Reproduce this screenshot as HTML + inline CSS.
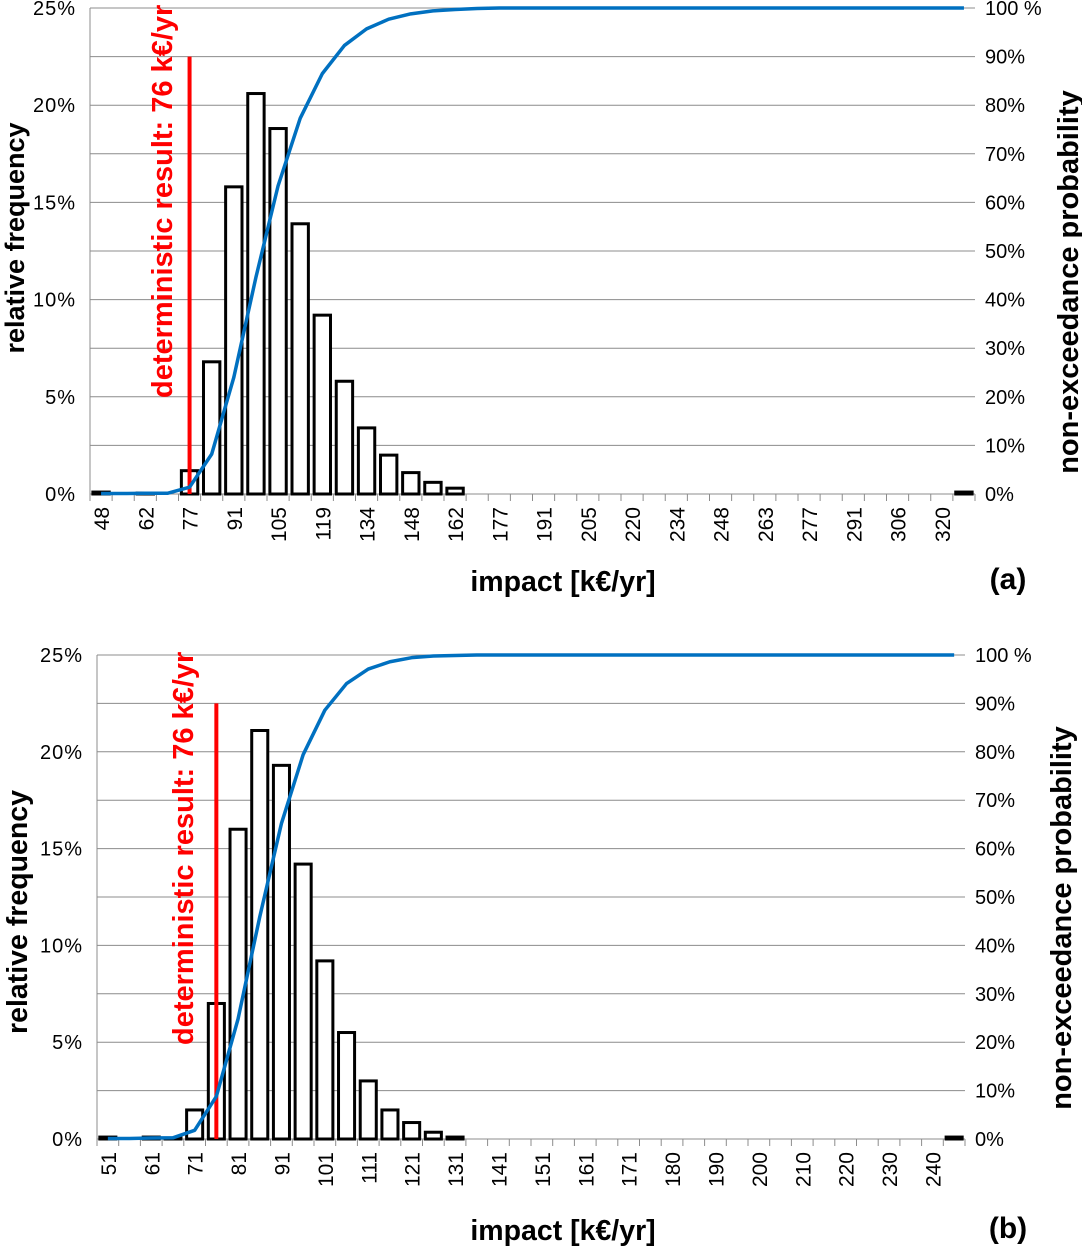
<!DOCTYPE html>
<html><head><meta charset="utf-8"><style>
html,body{margin:0;padding:0;background:#fff;}
svg{display:block;font-family:"Liberation Sans",Arial,sans-serif;}
</style></head><body>
<svg id="chart" width="1082" height="1247" viewBox="0 0 1082 1247" xmlns="http://www.w3.org/2000/svg"></svg>
<script>
// ---- data (a) ----
const catsA = ["48","55","62","69","77","84","91","98","105","112","119","127","134","141","148","155","162","170","177","184","191","198","205","213","220","227","234","241","248","256","263","270","277","284","291","299","306","313","320","327"];
const freqA = [0.1,0,0.05,0,1.2,6.8,15.8,20.6,18.8,13.9,9.2,5.8,3.4,2.0,1.1,0.6,0.3,0,0,0,0,0,0,0,0,0,0,0,0,0,0,0,0,0,0,0,0,0,0,0.1];
const cumA = [0.1,0.1,0.15,0.15,1.4,8.2,24,44.6,63.4,77.3,86.5,92.3,95.7,97.7,98.8,99.4,99.7,99.9,100,100,100,100,100,100,100,100,100,100,100,100,100,100,100,100,100,100,100,100,100,100];
const detA = 76;
// ---- data (b) ----
const catsB = ["51","56","61","66","71","76","81","86","91","96","101","106","111","116","121","126","131","136","141","146","151","156","161","166","171","176","180","185","190","195","200","205","210","215","220","225","230","235","240","245"];
const freqB = [0.1,0,0.1,0.05,1.5,7.0,16.0,21.1,19.3,14.2,9.2,5.5,3.0,1.5,0.85,0.35,0.1,0,0,0,0,0,0,0,0,0,0,0,0,0,0,0,0,0,0,0,0,0,0,0.1];
const cumB = [0.1,0.1,0.2,0.25,1.8,8.8,24.8,45.9,65.2,79.4,88.6,94.1,97.1,98.6,99.45,99.8,99.9,100,100,100,100,100,100,100,100,100,100,100,100,100,100,100,100,100,100,100,100,100,100,100];
const detB = 76;
const leftTicks = ["0%","5%","10%","15%","20%","25%"];
const rightTicks = ["0%","10%","20%","30%","40%","50%","60%","70%","80%","90%","100 %"];

const NS="http://www.w3.org/2000/svg";
const svg=document.getElementById('chart');
function mk(tag,attrs,parent,text){const e=document.createElementNS(NS,tag);for(const k in attrs)e.setAttribute(k,attrs[k]);if(text!==undefined)e.textContent=text;(parent||svg).appendChild(e);return e;}

function drawChart(cfg,cats,freq,cum,det){
  const g=mk('g',{});
  
  
  const n=cats.length, cw=(cfg.x1-cfg.x0)/n;
  const xC=i=>cfg.x0+cw*(i+0.5);
  const yL=v=>cfg.yb-(v/25)*(cfg.yb-cfg.yt);
  const yR=v=>cfg.yb-(v/100)*(cfg.yb-cfg.yt);
  for(let k=0;k<=10;k++){const y=yL(k*2.5);
    const l=mk('line',{x1:cfg.x0,x2:cfg.x1,y1:y,y2:y,stroke:'#8c8c8c','stroke-width':1},g);
    }
  const ax=mk('line',{x1:cfg.x0,x2:cfg.x0,y1:cfg.yt,y2:cfg.yb,stroke:'#8c8c8c','stroke-width':1},g);
  
  for(let i=0;i<=n;i++){const x=cfg.x0+cw*i;
    const t=mk('line',{x1:x,x2:x,y1:cfg.yb,y2:cfg.yb+7,stroke:'#8c8c8c','stroke-width':1},g);
    }
  leftTicks.forEach((s,i)=>{const t=mk('text',{x:cfg.x0-14,y:yL(i*5)+7,'text-anchor':'end','font-size':20,'letter-spacing':1,fill:'#000'},g,s);
    });
  rightTicks.forEach((s,i)=>{const t=mk('text',{x:cfg.x1+10,y:yR(i*10)+7,'text-anchor':'start','font-size':20,fill:'#000'},g,s);
    });
  cats.forEach((c,i)=>{if(i%2)return;const x=xC(i)+8,y=cfg.yb+13;
    const t=mk('text',{x:x,y:y,'text-anchor':'end','font-size':21,transform:`rotate(-90 ${x} ${y})`},g,c);
    });
  const bw=cw*0.74;
  freq.forEach((v,i)=>{if(v<=0)return;const y=yL(v);
    const r=mk('rect',{x:xC(i)-bw/2,y:y,width:bw,height:Math.max(cfg.yb-y,0.5),fill:'#fff',stroke:'#000','stroke-width':3},g);
    });
  const di=cats.reduce((b,c,i)=>Math.abs(+c-det)<Math.abs(+cats[b]-det)?i:b,0);
  const dx=xC(di);
  const rl=mk('line',{x1:dx,x2:dx,y1:yL(22.5),y2:cfg.yb,stroke:'#ff0000','stroke-width':4},g);
  
  const rt=mk('text',{x:cfg.lx,y:cfg.ly,'font-size':29,'font-weight':'bold',fill:'#ff0000',transform:`rotate(-90 ${cfg.lx} ${cfg.ly})`},g,'deterministic result: '+det+' k€/yr');
  
  const pts=cum.map((v,i)=>xC(i)+','+yR(v)).join(' ');
  const pl=mk('polyline',{points:pts,fill:'none',stroke:'#0070c0','stroke-width':3.5,'stroke-linejoin':'round'},g);
  
  const ty=cfg.ty;
  const a=mk('text',{x:cfg.lty[0],y:cfg.lty[1],'text-anchor':'middle','font-size':cfg.lfs,'font-weight':'bold',transform:`rotate(-90 ${cfg.lty[0]} ${cfg.lty[1]})`},g,'relative frequency');
  
  const b=mk('text',{x:cfg.rty[0],y:cfg.rty[1],'text-anchor':'middle','font-size':29,'font-weight':'bold',transform:`rotate(-90 ${cfg.rty[0]} ${cfg.rty[1]})`},g,'non-exceedance probability');
  
  const xt=mk('text',{x:563,y:ty,'text-anchor':'middle','font-size':28.5,'font-weight':'bold'},g,'impact [k€/yr]');
  
  const pt=mk('text',{x:1008,y:ty-2,'text-anchor':'middle','font-size':30,'font-weight':'bold'},g,cfg.tag);
  
}
drawChart({name:'chart-a',x0:90,x1:975,yt:8,yb:494,lx:172,ly:398,ty:591,tag:'(a)',lfs:27,lty:[24,238],rty:[1078,282]},catsA,freqA,cumA,detA);
drawChart({name:'chart-b',x0:97,x1:965,yt:655,yb:1139,lx:193,ly:1045,ty:1240,tag:'(b)',lfs:28.5,lty:[27,912],rty:[1071,918]},catsB,freqB,cumB,detB);
</script>
</body></html>
